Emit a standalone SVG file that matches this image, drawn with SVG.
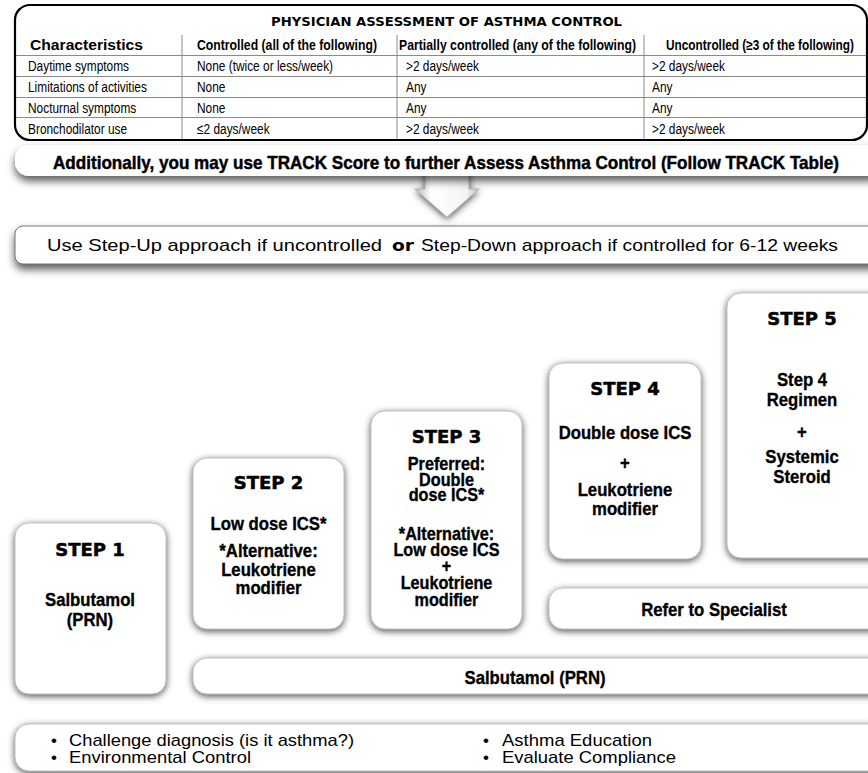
<svg xmlns="http://www.w3.org/2000/svg" width="868" height="773" viewBox="0 0 868 773">
  <defs>
    <filter id="sh" x="-15%" y="-30%" width="130%" height="160%">
      <feGaussianBlur in="SourceAlpha" stdDeviation="3.5"/>
      <feOffset dy="2" result="blur"/>
      <feFlood flood-color="#000" flood-opacity="0.7"/>
      <feComposite in2="blur" operator="in"/>
      <feMerge><feMergeNode/><feMergeNode in="SourceGraphic"/></feMerge>
    </filter>
    <filter id="shWide" x="-5%" y="-60%" width="110%" height="260%">
      <feGaussianBlur in="SourceAlpha" stdDeviation="4.5"/>
      <feOffset dy="5" result="blur"/>
      <feFlood flood-color="#000" flood-opacity="0.65"/>
      <feComposite in2="blur" operator="in"/>
      <feMerge><feMergeNode/><feMergeNode in="SourceGraphic"/></feMerge>
    </filter>
    <linearGradient id="arrowFill" x1="0" y1="0" x2="1" y2="0">
      <stop offset="0" stop-color="#b5b5b5"/>
      <stop offset="0.25" stop-color="#ffffff"/>
      <stop offset="0.8" stop-color="#f4f4f4"/>
      <stop offset="1" stop-color="#c0c0c0"/>
    </linearGradient>
    <style>
      .box { fill: #fff; stroke: #9a9a9a; stroke-width: 0.6; }
      .hd { font-family: "DejaVu Sans", "Liberation Sans", sans-serif; font-weight: bold; font-size: 18px; text-anchor: middle; fill: #000; stroke: #000; stroke-width: 0.5; }
      .bd { font-family: "Liberation Sans", Arial, sans-serif; font-weight: bold; font-size: 19px; text-anchor: middle; fill: #000; stroke: #000; stroke-width: 0.35; }
      .bd3 { font-size: 18px; }
      .tt { font-family: "DejaVu Sans", "Liberation Sans", sans-serif; font-weight: bold; font-size: 12.5px; fill: #000; }
      .th { font-family: "Liberation Sans", Arial, sans-serif; font-weight: bold; font-size: 14.5px; fill: #000; }
      .tc { font-family: "Liberation Sans", Arial, sans-serif; font-size: 14.5px; fill: #000; }
      .reg { font-family: "Liberation Sans", Arial, sans-serif; font-size: 17px; fill: #000; }
      .grid { stroke: #8a8a8a; stroke-width: 1; fill: none; }
    </style>
  </defs>

  <rect width="868" height="773" fill="#fff"/>

  <!-- assessment table -->
  <g id="assessment-table">
    <rect x="15" y="5" width="852" height="135" rx="15" fill="#fff" stroke="#000" stroke-width="2.2"/>
    <text class="tt" x="271" y="26" textLength="351" lengthAdjust="spacingAndGlyphs">PHYSICIAN ASSESSMENT OF ASTHMA CONTROL</text>
    <g class="grid">
      <line x1="182" y1="35" x2="182" y2="139"/>
      <line x1="397" y1="35" x2="397" y2="139"/>
      <line x1="644" y1="35" x2="644" y2="139"/>
      <line x1="16" y1="55.5" x2="866" y2="55.5"/>
      <line x1="16" y1="76.5" x2="866" y2="76.5"/>
      <line x1="16" y1="97.5" x2="866" y2="97.5"/>
      <line x1="16" y1="117.5" x2="866" y2="117.5"/>
    </g>
    <text class="th" x="30" y="50" textLength="113" lengthAdjust="spacingAndGlyphs">Characteristics</text>
    <text class="th" x="197" y="50" textLength="180" lengthAdjust="spacingAndGlyphs">Controlled (all of the following)</text>
    <text class="th" x="399" y="50" textLength="237" lengthAdjust="spacingAndGlyphs">Partially controlled (any of the following)</text>
    <text class="th" x="666" y="50" textLength="188" lengthAdjust="spacingAndGlyphs">Uncontrolled (≥3 of the following)</text>

    <text class="tc" transform="translate(28 71) scale(0.82 1)">Daytime symptoms</text>
    <text class="tc" transform="translate(28 92) scale(0.82 1)">Limitations of activities</text>
    <text class="tc" transform="translate(28 112.5) scale(0.82 1)">Nocturnal symptoms</text>
    <text class="tc" transform="translate(28 133.5) scale(0.82 1)">Bronchodilator use</text>

    <text class="tc" transform="translate(197 71) scale(0.82 1)">None (twice or less/week)</text>
    <text class="tc" transform="translate(197 92) scale(0.82 1)">None</text>
    <text class="tc" transform="translate(197 112.5) scale(0.82 1)">None</text>
    <text class="tc" transform="translate(197 133.5) scale(0.82 1)">≤2 days/week</text>

    <text class="tc" transform="translate(406 71) scale(0.82 1)">&gt;2 days/week</text>
    <text class="tc" transform="translate(406 92) scale(0.82 1)">Any</text>
    <text class="tc" transform="translate(406 112.5) scale(0.82 1)">Any</text>
    <text class="tc" transform="translate(406 133.5) scale(0.82 1)">&gt;2 days/week</text>

    <text class="tc" transform="translate(652 71) scale(0.82 1)">&gt;2 days/week</text>
    <text class="tc" transform="translate(652 92) scale(0.82 1)">Any</text>
    <text class="tc" transform="translate(652 112.5) scale(0.82 1)">Any</text>
    <text class="tc" transform="translate(652 133.5) scale(0.82 1)">&gt;2 days/week</text>
  </g>

  <!-- connectors -->
  <g id="connectors">
    <polygon points="425,170 469,170 469,189 479,189 447,217 415,189 425,189" fill="url(#arrowFill)" stroke="#a0a0a0" stroke-width="0.6" filter="url(#sh)"/>
  </g>

  <!-- TRACK banner -->
  <g id="track-note">
    <rect x="15" y="145" width="870" height="31" rx="14" fill="#fff" filter="url(#shWide)"/>
    <text class="th" x="53" y="168.5" style="font-size:18.5px;stroke:#000;stroke-width:0.45" textLength="786" lengthAdjust="spacingAndGlyphs">Additionally, you may use TRACK Score to further Assess Asthma Control (Follow TRACK Table)</text>
  </g>

  <!-- step-up / step-down instruction -->
  <g id="step-approach">
    <rect x="15" y="226" width="870" height="38" rx="8" fill="#fff" stroke="#555" stroke-width="0.8" filter="url(#shWide)"/>
    <text class="reg" x="47" y="251" textLength="335" lengthAdjust="spacingAndGlyphs">Use Step-Up approach if uncontrolled</text>
    <text class="tt" x="392" y="251" style="font-size:16px" textLength="22" lengthAdjust="spacingAndGlyphs">or</text>
    <text class="reg" x="421" y="251" textLength="417" lengthAdjust="spacingAndGlyphs">Step-Down approach if controlled for 6-12 weeks</text>
  </g>

  <!-- step boxes -->
  <g id="step1">
    <rect class="box" x="15" y="523" width="151" height="171" rx="14" filter="url(#sh)"/>
    <text class="hd" x="90" y="555.5">STEP 1</text>
    <g transform="translate(90 0) scale(0.88 1)">
      <text class="bd" x="0" y="606.5">Salbutamol</text>
      <text class="bd" x="0" y="626.5">(PRN)</text>
    </g>
  </g>

  <g id="step2">
    <rect class="box" x="193" y="458" width="151" height="171" rx="14" filter="url(#sh)"/>
    <text class="hd" x="268.5" y="488.5">STEP 2</text>
    <g transform="translate(268.5 0) scale(0.88 1)">
      <text class="bd" x="0" y="530">Low dose ICS*</text>
      <text class="bd" x="0" y="557">*Alternative:</text>
      <text class="bd" x="0" y="576">Leukotriene</text>
      <text class="bd" x="0" y="594">modifier</text>
    </g>
  </g>

  <g id="step3">
    <rect class="box" x="371" y="411" width="151" height="218" rx="14" filter="url(#sh)"/>
    <text class="hd" x="446.5" y="442.5">STEP 3</text>
    <g transform="translate(446.5 0) scale(0.9 1)">
      <text class="bd bd3" x="0" y="470">Preferred:</text>
      <text class="bd bd3" x="0" y="486">Double</text>
      <text class="bd bd3" x="0" y="501">dose ICS*</text>
      <text class="bd bd3" x="0" y="540">*Alternative:</text>
      <text class="bd bd3" x="0" y="556">Low dose ICS</text>
      <text class="bd bd3" x="0" y="572">+</text>
      <text class="bd bd3" x="0" y="589">Leukotriene</text>
      <text class="bd bd3" x="0" y="606">modifier</text>
    </g>
  </g>

  <g id="step4">
    <rect class="box" x="549" y="363" width="152" height="196" rx="14" filter="url(#sh)"/>
    <text class="hd" x="625" y="394.5">STEP 4</text>
    <g transform="translate(625 0) scale(0.88 1)">
      <text class="bd" x="0" y="439.5">Double dose ICS</text>
      <text class="bd" x="0" y="469.5">+</text>
      <text class="bd" x="0" y="496.5">Leukotriene</text>
      <text class="bd" x="0" y="515.5">modifier</text>
    </g>
  </g>

  <g id="step5">
    <rect class="box" x="727" y="293" width="160" height="265" rx="14" filter="url(#sh)"/>
    <text class="hd" x="802" y="324.5">STEP 5</text>
    <g transform="translate(802 0) scale(0.88 1)">
      <text class="bd" x="0" y="386.5">Step 4</text>
      <text class="bd" x="0" y="406.5">Regimen</text>
      <text class="bd" x="0" y="438.5">+</text>
      <text class="bd" x="0" y="463.5">Systemic</text>
      <text class="bd" x="0" y="483.5">Steroid</text>
    </g>
  </g>

  <g id="refer-specialist">
    <rect class="box" x="549" y="588" width="340" height="41" rx="14" filter="url(#sh)"/>
    <text class="bd" transform="translate(714 615.5) scale(0.88 1)">Refer to Specialist</text>
  </g>

  <g id="salbutamol-prn">
    <rect class="box" x="193" y="658" width="700" height="36" rx="14" filter="url(#sh)"/>
    <text class="bd" transform="translate(535 683.5) scale(0.88 1)">Salbutamol (PRN)</text>
  </g>

  <!-- general measures -->
  <g id="general-measures">
    <rect class="box" x="15" y="724" width="870" height="47" rx="14" filter="url(#sh)"/>
    <text class="reg" x="51" y="746">•</text>
    <text class="reg" x="69" y="746" textLength="285" lengthAdjust="spacingAndGlyphs">Challenge diagnosis (is it asthma?)</text>
    <text class="reg" x="51" y="763">•</text>
    <text class="reg" x="69" y="763" textLength="182" lengthAdjust="spacingAndGlyphs">Environmental Control</text>
    <text class="reg" x="483" y="746">•</text>
    <text class="reg" x="502" y="746" textLength="150" lengthAdjust="spacingAndGlyphs">Asthma Education</text>
    <text class="reg" x="483" y="763">•</text>
    <text class="reg" x="502" y="763" textLength="174" lengthAdjust="spacingAndGlyphs">Evaluate Compliance</text>
  </g>
</svg>
